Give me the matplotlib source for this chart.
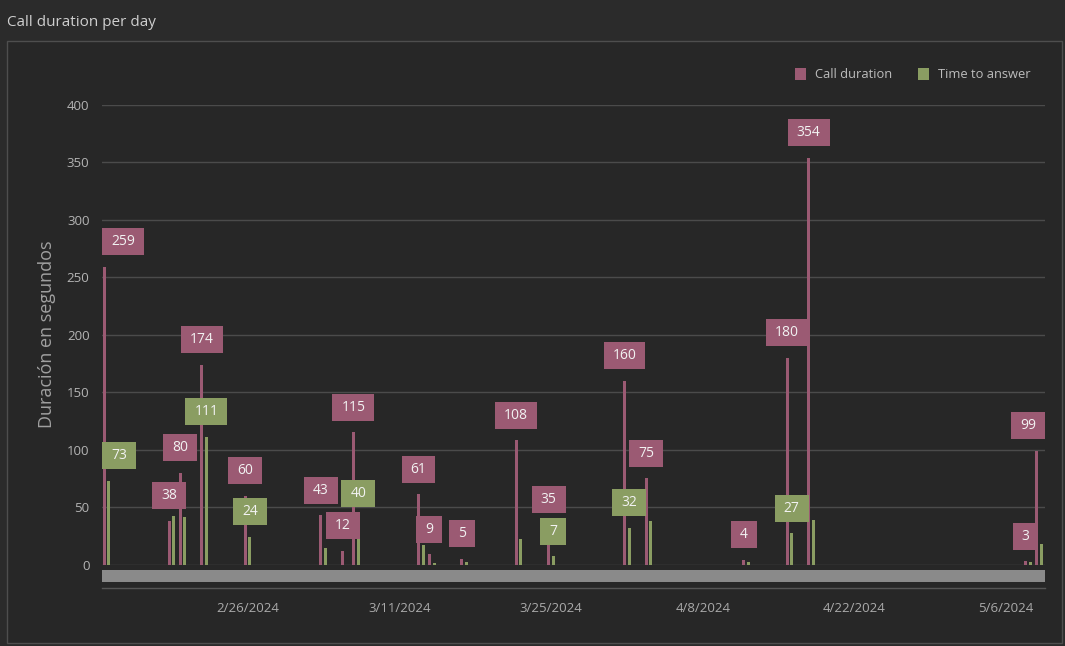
import datetime as dt
import matplotlib
matplotlib.use("Agg")
import matplotlib.pyplot as plt
import matplotlib.dates as mdates
from matplotlib.patches import Rectangle
from matplotlib.lines import Line2D
from matplotlib.transforms import IdentityTransform

# ---- data -------------------------------------------------------------
days = ["2024-02-13", "2024-02-19", "2024-02-20", "2024-02-22", "2024-02-26",
        "2024-03-04", "2024-03-06", "2024-03-07", "2024-03-13", "2024-03-14",
        "2024-03-17", "2024-03-22", "2024-03-25", "2024-04-01", "2024-04-03",
        "2024-04-12", "2024-04-16", "2024-04-18", "2024-05-08", "2024-05-09"]
call_duration = [259, 38, 80, 174, 60, 43, 12, 115, 61, 9,
                 5, 108, 35, 160, 75, 4, 180, 354, 3, 99]
time_to_answer = [73, 42, 41, 111, 24, 14, 0, 40, 17, 1,
                  2, 22, 7, 32, 38, 2, 27, 39, 2, 18]
# value labels that survive the collision pass of the dashboard
answer_labelled = [True, False, False, True, True, False, False, True, False, False,
                   False, False, True, True, False, False, True, False, False, False]
tick_days = ["2024-02-26", "2024-03-11", "2024-03-25", "2024-04-08",
             "2024-04-22", "2024-05-06"]
series_names = ["Call duration", "Time to answer"]

# ---- style ------------------------------------------------------------
BG = "#2b2b2b"
PANEL = "#272727"
PINK = "#9b5a73"
GREEN = "#8a9d62"
GRID = "#4b4b4b"
TXT = "#b4b4b4"
plt.rcParams["font.family"] = ["Open Sans", "DejaVu Sans"]

W, H, DPI = 1065, 646, 100
fig = plt.figure(figsize=(W / DPI, H / DPI), dpi=DPI, facecolor=BG)

def px(x, y):
    """figure pixel (top-left origin) -> figure fraction"""
    return x / W, 1 - y / H

# panel frame and header rule
fig.patches.append(Rectangle(px(7, 643), (1062 - 7) / W, (643 - 41) / H,
                             transform=fig.transFigure, facecolor=PANEL,
                             edgecolor="#4e4e4e", lw=1, zorder=-5))
fig.text(*px(7, 22), "Call duration per day", color="#cfcfcf", fontsize=11,
         ha="left", va="center")

left, right, top, bottom = 102, 1045, 105, 564.5
ax = fig.add_axes([left / W, 1 - bottom / H, (right - left) / W, (bottom - top) / H])
ax.set_facecolor("none")
ax.set_zorder(2)

x = mdates.date2num([dt.date.fromisoformat(d) for d in days])
off, bw = 0.217, 0.28
ax.bar(x - off, call_duration, width=bw, color=PINK, zorder=3)
ax.bar(x + off, time_to_answer, width=bw, color=GREEN, zorder=3)

ax.set_xlim(x[0] - 0.42, x[-1] + 0.58)
ax.set_ylim(0, 400)
ax.set_yticks(range(0, 401, 50))
ax.grid(axis="y", color=GRID, lw=1, zorder=0)
ax.grid(axis="x", visible=False)
for s in ax.spines.values():
    s.set_visible(False)

tx = mdates.date2num([dt.date.fromisoformat(d) for d in tick_days])
ax.set_xticks(tx)
ax.set_xticklabels([f"{d.month}/{d.day}/{d.year}" for d in
                    (dt.date.fromisoformat(t) for t in tick_days)])
ax.tick_params(axis="x", length=0, pad=27, labelcolor="#aaaaaa", labelsize=9.5)
ax.tick_params(axis="y", length=0, pad=9, labelcolor=TXT, labelsize=9.5)
ax.set_ylabel("Duración en segundos", color="#a0a0a0", fontsize=13, labelpad=8)

# scroll strip and axis rule under the bars
fig.patches.append(Rectangle(px(102, 582), (1045 - 102) / W, 12 / H,
                             transform=fig.transFigure, facecolor="#8a8a8a",
                             edgecolor="none", zorder=1))
fig.lines.append(Line2D([102 / W, 1045 / W], [1 - 587.5 / H] * 2,
                        transform=fig.transFigure, color="#555555", lw=1))

# legend
for sx, col, name in [(795, PINK, series_names[0]), (918, GREEN, series_names[1])]:
    fig.patches.append(Rectangle(px(sx, 80), 11 / W, 12 / H, transform=fig.transFigure,
                                 facecolor=col, edgecolor="none"))
    fig.text(*px(sx + 20, 74.5), name, color="#bdbdbd", fontsize=9.3,
             ha="left", va="center")

# value labels: boxes 25 px above the bar top, kept inside the plot area
fig.canvas.draw()
renderer = fig.canvas.get_renderer()
ident = IdentityTransform()
labels = []
for i in range(len(days)):
    labels.append((x[i] - off, call_duration[i], PINK))
    if answer_labelled[i]:
        labels.append((x[i] + off, time_to_answer[i], GREEN))

for lx, val, col in labels:
    cx, cy = ax.transData.transform((lx, val))
    cy += 25
    t = fig.text(0, 0, str(val), fontsize=10, color="#f2f2f2",
                 ha="center", va="center", transform=ident, zorder=6)
    tw = t.get_window_extent(renderer).width
    bw_px = tw + 18
    bh_px = 27
    x0 = cx - bw_px / 2
    x0 = max(left, min(x0, right - bw_px))
    t.set_position((x0 + bw_px / 2, cy))
    fig.patches.append(Rectangle((x0, cy - bh_px / 2), bw_px, bh_px,
                                 transform=ident, facecolor=col,
                                 edgecolor="none", zorder=5))

fig.savefig("out.png", dpi=DPI, facecolor=BG)
